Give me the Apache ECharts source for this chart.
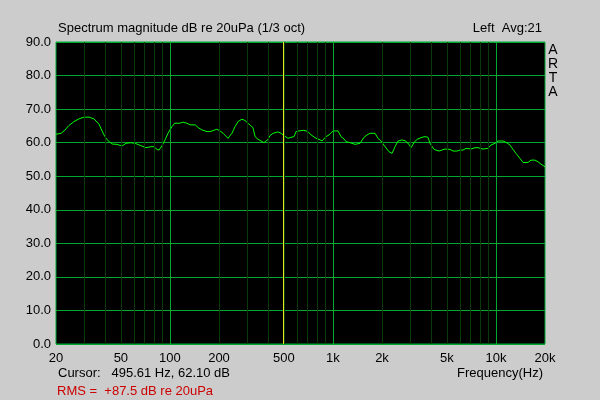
<!DOCTYPE html>
<html>
<head>
<meta charset="utf-8">
<script src="https://cdn.jsdelivr.net/npm/echarts@6/dist/echarts.min.js"></script>
<style>
html,body{margin:0;padding:0;background:#cccccc;}
#chart{width:600px;height:400px;}
</style>
</head>
<body>
<div id="chart"></div>
<script>
// Frequencies (Hz) and 1/3-octave smoothed magnitude (dB re 20uPa)
const freqs = [20, 21.5, 22.4, 24.0, 25.8, 27.7, 29.7, 31.9, 34.2, 36.7, 39.4, 41.1, 44.1, 47.3, 50.8, 53.8, 57.7, 61.9, 66.4, 71.3, 76.5,
  79.8, 83.3, 85.7, 89.4, 93.3, 97.3, 103, 107, 115, 120, 127, 133, 143, 149, 157, 169, 176, 184, 194, 203, 212, 227, 240, 251, 262, 277, 289, 301,
  323, 333, 347, 362, 378, 400, 411, 429, 460, 480, 501, 530, 553, 577, 594, 619, 664, 703, 734, 787, 821, 857, 907, 946, 1001, 1074, 1121, 1169,
  1203, 1273, 1366, 1466, 1551, 1618, 1688, 1812, 1890, 1972, 2087, 2208, 2304, 2404, 2508, 2654, 2769, 2929, 3013, 3143, 3279, 3519, 3671, 3830, 3940, 4169, 4474,
  4870, 5227, 5453, 5769, 6019, 6280, 6551, 7031, 7441, 7763, 8332, 8942, 9329, 9869, 10296, 11050, 11530, 12198, 12726, 13277, 14047, 14655, 15730, 16411, 17364, 18115, 18902, 19718, 20000];
const mags = [62.5, 62.8, 63.5, 65.1, 66.3, 67.1, 67.6, 67.6, 67.1, 65.5, 62.3, 60.9, 59.6, 59.5, 59.0, 59.8, 60.0, 59.7, 59.1, 58.5, 58.8,
  58.8, 58.0, 57.8, 59.1, 60.8, 62.8, 64.8, 65.8, 65.8, 66.1, 65.8, 65.3, 65.3, 64.5, 63.8, 63.3, 63.3, 63.6, 64.0, 63.5, 62.8, 61.3, 62.8, 64.8, 66.3, 67.0, 66.6, 65.8,
  64.5, 61.8, 61.0, 60.5, 60.0, 61.0, 62.1, 62.8, 63.2, 62.8, 62.1, 61.3, 61.6, 61.8, 63.3, 63.5, 63.7, 63.3, 62.3, 61.3, 61.0, 60.5, 61.8, 62.3, 63.5, 63.5, 61.8, 61.1,
  60.3, 60.0, 59.5, 59.8, 61.6, 62.3, 62.8, 62.8, 61.3, 60.5, 58.8, 57.3, 56.8, 58.8, 60.5, 60.8, 60.6, 59.5, 58.5, 60.0, 61.0, 61.6, 61.8, 61.6, 59.8, 58.0, 57.5,
  58.1, 58.0, 57.5, 57.5, 57.8, 57.8, 58.3, 58.1, 58.5, 58.5, 58.1, 58.3, 59.3, 59.8, 60.5, 60.5, 60.1, 59.3, 58.0, 56.8, 55.3, 54.1, 54.1, 54.8, 54.8, 54.3, 53.6, 53.0, 52.8];

const xTickLabels = [20, 50, 100, 200, 500, 1000, 2000, 5000, 10000, 20000];
const majorGridFreqs = [100, 1000, 10000];
const minorGridFreqs = [30, 40, 50, 60, 70, 80, 90, 200, 300, 400, 500, 600, 700, 800, 900,
  2000, 3000, 4000, 5000, 6000, 7000, 8000, 9000];
const cursorFreq = 495.61;
const cursorDb = 62.10;

const MAJOR = '#00a830';
const MINOR = '#0a3a0a';
const FONT = 'Liberation Sans, Arial, sans-serif';

const chart = echarts.init(document.getElementById('chart'));
const curve = freqs.map((f, i) => [f, mags[i]]);

function fmtFreq(v) {
  const r = Math.round(v);
  return r >= 1000 ? (r / 1000) + 'k' : String(r);
}

chart.setOption({
  backgroundColor: '#cccccc',
  animation: false,
  grid: {
    left: 56, right: 55, top: 42, bottom: 56,
    show: true, backgroundColor: '#000000', borderColor: MAJOR, borderWidth: 1
  },
  xAxis: {
    type: 'log', logBase: 10, min: 20, max: 20000,
    axisLine: { show: false }, axisTick: { show: false }, splitLine: { show: false },
    axisLabel: {
      customValues: xTickLabels,
      formatter: fmtFreq, color: '#000', fontSize: 13, fontFamily: FONT, margin: 8,
      showMinLabel: true, showMaxLabel: true
    }
  },
  yAxis: {
    type: 'value', min: 0, max: 90, interval: 10,
    axisLine: { show: false }, axisTick: { show: false },
    splitLine: { show: true, lineStyle: { color: MAJOR, width: 1 } },
    axisLabel: { formatter: v => v.toFixed(1), color: '#000', fontSize: 13, fontFamily: FONT, margin: 5 }
  },
  series: [
    {
      type: 'line', data: [], z: 1, silent: true,
      markLine: {
        silent: true, symbol: 'none', animation: false,
        label: { show: false },
        data: minorGridFreqs.map(f => ({ xAxis: f, lineStyle: { color: MINOR, width: 1, type: 'solid' } }))
          .concat(majorGridFreqs.map(f => ({ xAxis: f, lineStyle: { color: MAJOR, width: 1, type: 'solid' } })))
      }
    },
    {
      type: 'line', data: curve, z: 3, silent: true,
      showSymbol: false, symbol: 'none',
      lineStyle: { color: '#00ff00', width: 1 },
      markLine: {
        silent: true, symbol: 'none', animation: false, label: { show: false },
        data: [{ xAxis: cursorFreq, lineStyle: { color: '#e8e820', width: 1, type: 'solid' } }]
      }
    }
  ],
  graphic: [
    { type: 'text', left: 58, top: 22, style: { text: 'Spectrum magnitude dB re 20uPa (1/3 oct)', font: '13px ' + FONT, fill: '#000' } },
    { type: 'text', right: 58, top: 22, style: { text: 'Left  Avg:21', font: '13px ' + FONT, fill: '#000' } },
    { type: 'text', x: 553, y: 50, style: { text: 'A', font: '14px ' + FONT, fill: '#000', align: 'center', verticalAlign: 'middle' } },
    { type: 'text', x: 553, y: 64, style: { text: 'R', font: '14px ' + FONT, fill: '#000', align: 'center', verticalAlign: 'middle' } },
    { type: 'text', x: 553, y: 78, style: { text: 'T', font: '14px ' + FONT, fill: '#000', align: 'center', verticalAlign: 'middle' } },
    { type: 'text', x: 553, y: 92, style: { text: 'A', font: '14px ' + FONT, fill: '#000', align: 'center', verticalAlign: 'middle' } },
    { type: 'text', x: 58, y: 373, style: { text: 'Cursor:   ' + cursorFreq.toFixed(2) + ' Hz, ' + cursorDb.toFixed(2) + ' dB', font: '13px ' + FONT, fill: '#000', verticalAlign: 'middle' } },
    { type: 'text', x: 543, y: 373, style: { text: 'Frequency(Hz)', font: '13px ' + FONT, fill: '#000', align: 'right', verticalAlign: 'middle' } },
    { type: 'text', x: 57, y: 391, style: { text: 'RMS =  +87.5 dB re 20uPa', font: '13px ' + FONT, fill: '#cc0000', verticalAlign: 'middle' } }
  ]
});
</script>
</body>
</html>
